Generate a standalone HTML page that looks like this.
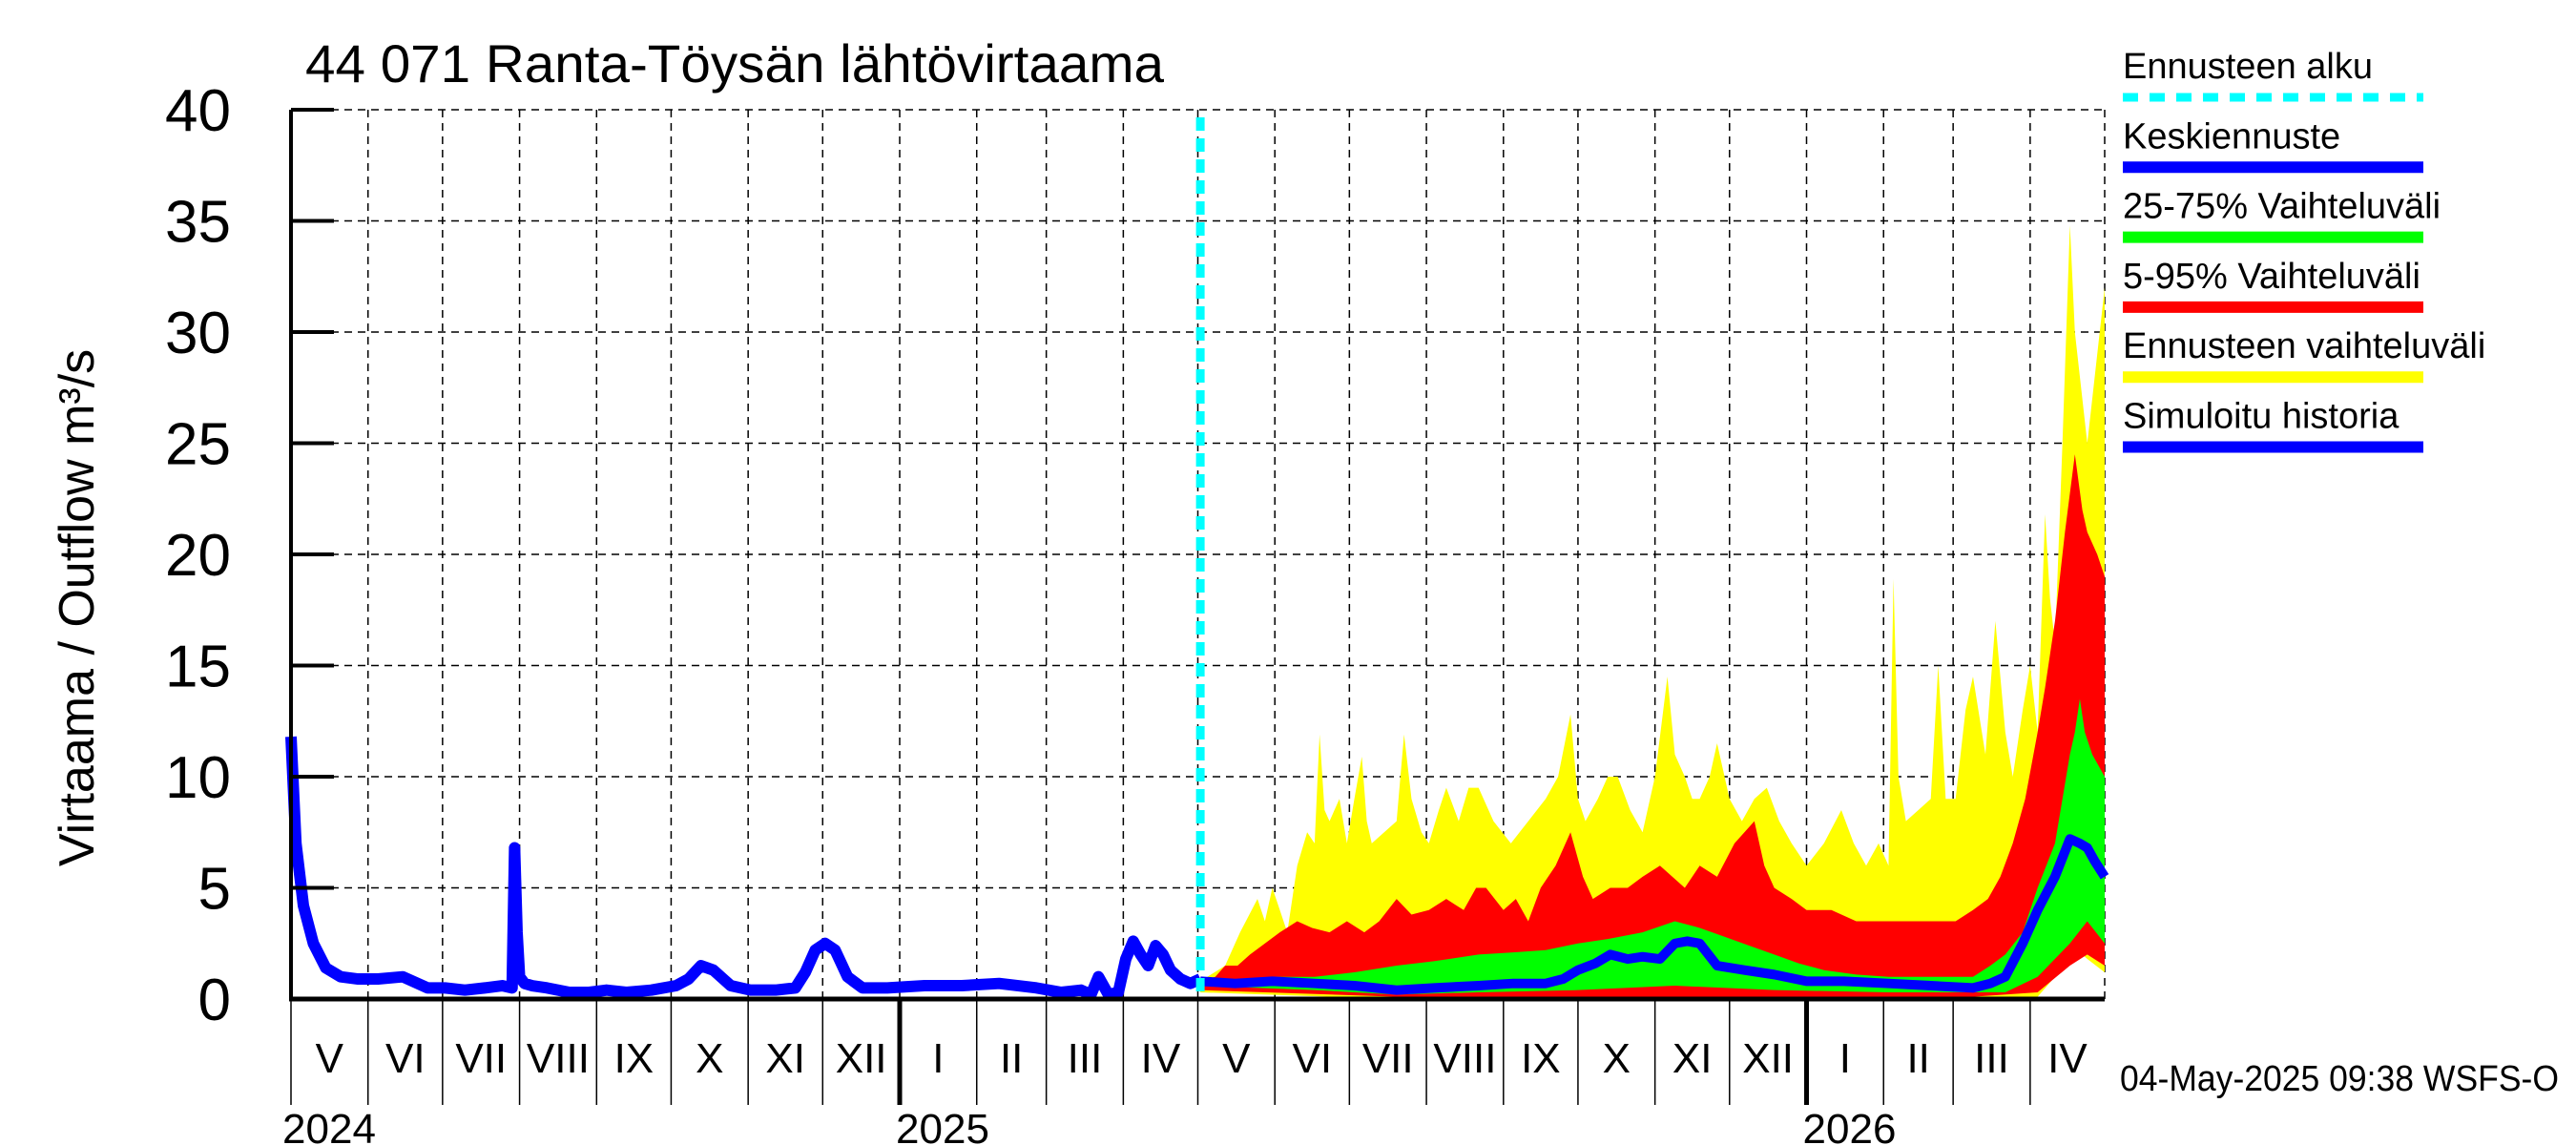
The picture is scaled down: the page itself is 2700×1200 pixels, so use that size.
<!DOCTYPE html>
<html><head><meta charset="utf-8"><style>
html,body{margin:0;padding:0;background:#fff}
svg{display:block}
text{font-family:"Liberation Sans",sans-serif;fill:#000}
</style></head><body>
<svg id="chart" width="2700" height="1200" viewBox="0 0 2700 1200" xmlns="http://www.w3.org/2000/svg">
<g id="grid"></g>
<g id="bands"></g>
<g id="lines"></g>
<g id="axes"></g>
<text x="320" y="86" font-size="56" textLength="900" lengthAdjust="spacingAndGlyphs">44 071 Ranta-Töysän lähtövirtaama</text>
<text transform="translate(98,637) rotate(-90)" font-size="52" text-anchor="middle">Virtaama / Outflow    m³/s</text>
<text x="2222" y="1143" font-size="38" textLength="460" lengthAdjust="spacingAndGlyphs">04-May-2025 09:38 WSFS-O</text>
<g id="legend"></g>
</svg>
<script>
// ---- data ----
const yTicks = [0,5,10,15,20,25,30,35,40];
const monthLabels = ["V","VI","VII","VIII","IX","X","XI","XII","I","II","III","IV","V","VI","VII","VIII","IX","X","XI","XII","I","II","III","IV"];
const yearLabels = ["2024","2025","2026"];
const yearStartDays = [0,245,610];
const forecastStartDay = 366;
// simulated history (days since 2024-05-01)
const histDays = [0,2,5,9,14,20,27,35,45,55,62,70,78,85,89,90,91,92,94,97,103,112,120,127,135,145,155,160,165,170,177,185,195,203,207,211,215,219,224,230,240,255,270,285,300,310,318,322,325,329,333,336,339,342,345,348,351,354,358,362,366];
const histVals = [11.8,7,4.2,2.5,1.4,1.0,0.9,0.9,1.0,0.5,0.5,0.4,0.5,0.6,0.5,6.8,3,1,0.7,0.6,0.5,0.3,0.3,0.4,0.3,0.4,0.6,0.9,1.5,1.3,0.6,0.4,0.4,0.5,1.2,2.2,2.5,2.2,1.0,0.5,0.5,0.6,0.6,0.7,0.5,0.3,0.4,0.2,1.0,0.2,0.3,1.8,2.6,2.0,1.5,2.4,2.0,1.3,0.9,0.7,0.9];
// forecast bands
const ymaxDays = [366,376,382,389,392,395,398,401,405,409,412,414,416,418,422,425,428,431,433,435,440,445,448,451,455,458,462,465,470,474,478,484,491,498,505,510,515,518,521,526,530,534,539,544,549,554,557,561,564,567,571,574,579,584,589,594,599,604,610,617,624,629,634,639,643,645,647,650,655,660,663,666,670,674,677,682,686,690,693,697,700,703,706,708,710,713,716,718,720,723,726,730];
const ymaxVals = [0.8,1.5,3,4.5,3.5,5,4,3,6,7.5,7,11.9,8.5,8,9,7,9,10.9,8,7,7.5,8,11.9,9,7.5,7,8.5,9.5,8,9.5,9.5,8,7,8,9,10,12.8,9,8,9,10,10,8.5,7.5,10,14.5,11,10,9,9,10,11.5,9,8,9,9.5,8,7,6,7,8.5,7,6,7,6,18.9,10,8,8.5,9,15,9,9,13,14.5,11,17,12,10,13,15,12,21.8,18,16,25,34.8,30,28,25,28,32];
const p95Days = [366,372,376,381,386,392,398,405,411,418,425,432,438,445,451,458,465,472,477,481,488,493,498,503,509,515,520,524,531,538,544,551,556,561,567,574,581,589,593,597,604,610,620,630,640,650,660,670,677,683,688,693,698,703,706,710,714,718,721,723,727,730];
const p95Vals = [0.8,1,1.5,1.5,2,2.5,3,3.5,3.2,3,3.5,3,3.5,4.5,3.8,4,4.5,4,5,5,4,4.5,3.5,5,6,7.5,5.5,4.5,5,5,5.5,6,5.5,5,6,5.5,7,8,6,5,4.5,4,4,3.5,3.5,3.5,3.5,3.5,4,4.5,5.5,7,9,12,14,17,21,24.5,22,21,20,19];
const p75Days = [366,380,395,412,428,445,460,478,492,505,518,530,544,557,567,577,587,597,607,617,630,643,660,677,684,690,697,703,710,716,718,720,722,725,730];
const p75Vals = [0.8,0.9,1,1,1.2,1.5,1.7,2,2.1,2.2,2.5,2.7,3,3.5,3.2,2.8,2.4,2,1.6,1.3,1.1,1,1,1,1.5,2,3,5,7,11,12,13.5,12,11,10];
const medDays = [366,380,395,412,428,445,460,478,492,505,512,518,525,531,538,544,551,557,562,567,574,585,597,610,625,643,660,677,684,690,697,703,710,716,720,723,726,730];
const medVals = [0.8,0.7,0.8,0.7,0.6,0.4,0.5,0.6,0.7,0.7,0.9,1.3,1.6,2,1.8,1.9,1.8,2.5,2.6,2.5,1.5,1.3,1.1,0.8,0.8,0.7,0.6,0.5,0.7,1,2.5,4,5.5,7.2,7,6.8,6.2,5.5];
const p25Days = [366,412,445,478,518,557,597,643,690,703,716,723,730];
const p25Vals = [0.6,0.4,0.2,0.3,0.4,0.6,0.4,0.3,0.3,1,2.5,3.5,2.5];
const p05Days = [366,445,518,597,677,703,716,723,730];
const p05Vals = [0.4,0.1,0.1,0.1,0.1,0.3,1.5,2,1.5];
const yminDays = [366,445,518,597,677,703,710,716,723,730];
const yminVals = [0.3,0,0,0,0,0.1,1,2.5,1.8,1.2];
// ---- scales ----
const X0=305,X1=2206,Y0=1047,Y1=115,TOTAL=730;
const xs=d=>X0+(X1-X0)*d/TOTAL;
const ys=v=>Y0-(Y0-Y1)*v/40;
const NS="http://www.w3.org/2000/svg";
function mk(tag,parent,attrs){const e=document.createElementNS(NS,tag);for(const k in attrs)e.setAttribute(k,attrs[k]);parent.appendChild(e);return e;}
const grid=document.getElementById('grid'),axes=document.getElementById('axes'),bands=document.getElementById('bands'),lines=document.getElementById('lines'),legend=document.getElementById('legend');
const monthLens=[31,30,31,31,30,31,30,31,31,28,31,30,31,30,31,31,30,31,30,31,31,28,31,30];
let starts=[0];for(let i=0;i<monthLens.length;i++)starts.push(starts[i]+monthLens[i]);
for(let i=1;i<starts.length-1;i++){
  const l=mk('line',grid,{x1:xs(starts[i]),x2:xs(starts[i]),y1:Y1,y2:Y0,stroke:'#000','stroke-width':1.5,'stroke-dasharray':'8,6'});
  
  
}
const rb=mk('line',grid,{x1:X1,x2:X1,y1:Y1,y2:Y0,stroke:'#000','stroke-width':1.5,'stroke-dasharray':'8,6'});


yTicks.forEach(v=>{
  if(v>0){const g=mk('line',grid,{x1:X0,x2:X1,y1:ys(v),y2:ys(v),stroke:'#000','stroke-width':1.5,'stroke-dasharray':'8,6'});
  
  }
  const t=mk('line',axes,{x1:X0,x2:X0+45,y1:ys(v),y2:ys(v),stroke:'#000','stroke-width':4});
  
  
  const tx=mk('text',axes,{x:242,y:ys(v)+22,'font-size':62,'text-anchor':'end'});tx.textContent=v;
  
  
});
function band(upD,upV,loD,loV,color,name){
  let pts=upD.map((d,i)=>xs(d)+','+ys(upV[i]));
  for(let i=loD.length-1;i>=0;i--)pts.push(xs(loD[i])+','+ys(loV[i]));
  const p=mk('polygon',bands,{points:pts.join(' '),fill:color});
  
  
}
band(ymaxDays,ymaxVals,yminDays,yminVals,'#ffff00','forecast-range-band');
band(p95Days,p95Vals,p05Days,p05Vals,'#ff0000','band-5-95');
band(p75Days,p75Vals,p25Days,p25Vals,'#00ff00','band-25-75');
function line(D,V,w,name){
  const p=mk('polyline',lines,{points:D.map((d,i)=>xs(d)+','+ys(V[i])).join(' '),fill:'none',stroke:'#0000ff','stroke-width':w,'stroke-linejoin':'round'});
  
  
}
line(histDays,histVals,12,'simulated-history-line');
line(medDays,medVals,10,'median-forecast-line');
const cy=mk('line',lines,{x1:xs(forecastStartDay),x2:xs(forecastStartDay),y1:Y1+8,y2:Y0,stroke:'#00ffff','stroke-width':9,'stroke-dasharray':'14,8'});


const ax=mk('line',axes,{x1:X0,x2:X0,y1:Y1,y2:Y0+2,stroke:'#000','stroke-width':4});


const bx=mk('line',axes,{x1:X0-2,x2:X1,y1:Y0,y2:Y0,stroke:'#000','stroke-width':5});


for(let i=0;i<starts.length-1;i++){
  const t=mk('line',axes,{x1:xs(starts[i]),x2:xs(starts[i]),y1:Y0,y2:1158,stroke:'#000','stroke-width':yearStartDays.includes(starts[i])&&starts[i]>0?5:1.5});
  
  
  const lb=mk('text',axes,{x:xs((starts[i]+starts[i+1])/2),y:1124,'font-size':44,'text-anchor':'middle'});lb.textContent=monthLabels[i];
  
  
}
yearLabels.forEach((y,i)=>{
  const t=mk('text',axes,{x:xs(yearStartDays[i])+(i==0?40:45),y:1198,'font-size':44,'text-anchor':'middle'});t.textContent=y;
  
  
});
const legNames=["Ennusteen alku","Keskiennuste","25-75% Vaihteluväli","5-95% Vaihteluväli","Ennusteen vaihteluväli","Simuloitu historia"];
const legColors=["#00ffff","#0000ff","#00ff00","#ff0000","#ffff00","#0000ff"];
legNames.forEach((n,i)=>{
  const ly=102+i*73.3;
  const t=mk('text',legend,{x:2225,y:ly-20,'font-size':38});t.textContent=n;
  
  
  const l=mk('line',legend,{x1:2225,x2:2540,y1:ly,y2:ly,stroke:legColors[i],'stroke-width':i==0?9:12});
  if(i==0)l.setAttribute('stroke-dasharray','16,12');
  
  
});
</script>
</body></html>
